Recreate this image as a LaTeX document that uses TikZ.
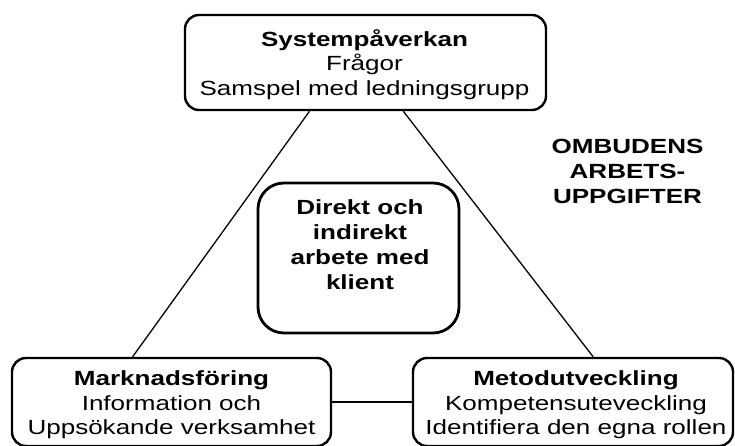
\documentclass[tikz,border=0pt]{standalone}
\usepackage{fontspec}
\setmainfont[FakeStretch=1.27]{Liberation Sans}
\usetikzlibrary{calc}

\begin{document}
\begin{tikzpicture}[x=1pt, y=-1pt,
  taskbox/.style={draw, line width=2.4pt, rounded corners=14pt, inner sep=0pt},
  corebox/.style={draw, line width=2.8pt, rounded corners=26pt, inner sep=0pt},
  boxtext/.style={align=center, inner sep=0pt,
    font=\fontsize{20.5}{24.5}\selectfont},
  link/.style={line width=1.3pt}]
\useasboundingbox (0,0) rectangle (735,446);

% the four boxes
\node[taskbox, minimum width=361pt, minimum height=95pt] (sys) at (365.5,62.5) {};
\node[taskbox, minimum width=319pt, minimum height=88pt] (mark) at (171.5,402) {};
\node[taskbox, minimum width=320pt, minimum height=88pt] (meto) at (573,402) {};
\node[corebox, minimum width=201pt, minimum height=150pt] (core) at (358.5,258) {};

% connectors forming the triangle
\draw[link] ($(sys.south west)!0.346!(sys.south east)$) -- ($(mark.north west)!0.379!(mark.north east)$);
\draw[link] ($(sys.south west)!0.604!(sys.south east)$) -- ($(meto.north west)!0.5625!(meto.north east)$);
\draw[link] (mark.east) -- (meto.west);

% box texts
\node[boxtext] (systxt) at (364.5,64.5) {\textbf{Systempåverkan}\\Frågor\\Samspel med ledningsgrupp};
\node[boxtext] (marktxt) at (171.5,405) {\textbf{Marknadsföring}\\Information och\\Uppsökande verksamhet};
\node[boxtext] (metotxt) at (576,405) {\textbf{Metodutveckling}\\Kompetensuteveckling\\Identifiera den egna rollen};
\node[boxtext, font=\fontsize{20.5}{25}\selectfont\bfseries] (coretxt) at (360,245) {Direkt och\\indirekt\\arbete med\\klient};

% heading at the right
\node[boxtext, font=\fontsize{20.5}{25}\selectfont\bfseries] (title) at (627.5,171) {OMBUDENS\\ARBETS-\\UPPGIFTER};
\end{tikzpicture}
\end{document}
